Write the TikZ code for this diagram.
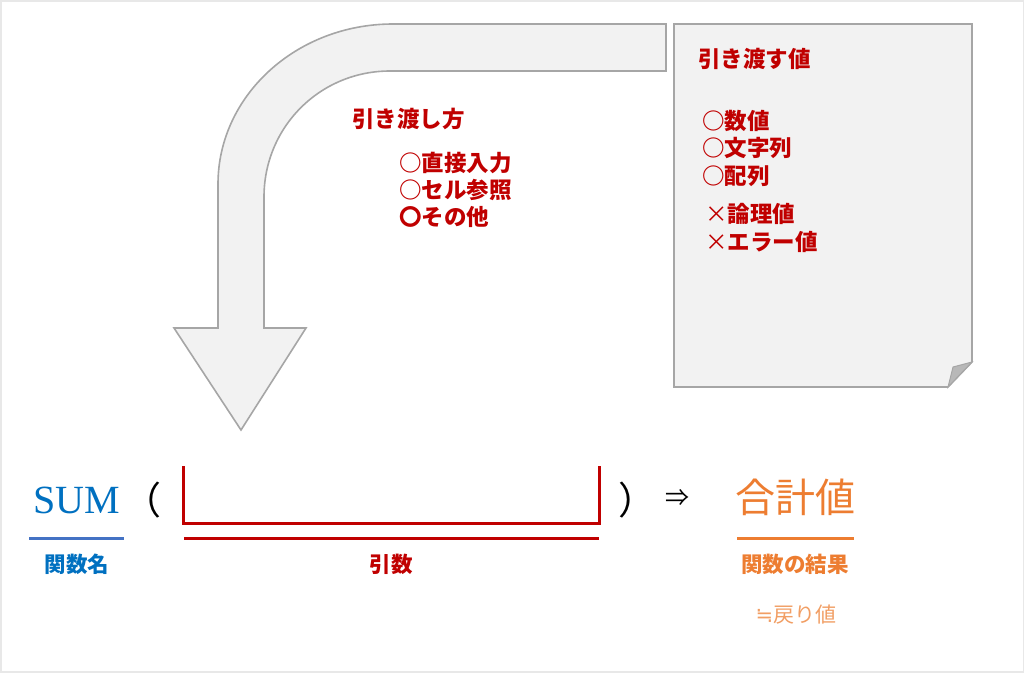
\documentclass[tikz,border=0pt]{standalone}
\usepackage{fontspec}
\setmainfont{Liberation Serif}
\newfontfamily\jp{Noto Sans CJK JP}
\newfontfamily\symfont{DejaVu Sans}
\definecolor{cred}{HTML}{C00000}
\definecolor{cblue}{HTML}{0070C0}
\definecolor{cline}{HTML}{4472C4}
\definecolor{corange}{HTML}{ED7D31}
\definecolor{cfill}{HTML}{F2F2F2}
\definecolor{cedge}{HTML}{A6A6A6}
\tikzset{
  shapebox/.style={fill=cfill,draw=cedge,line width=1.6pt,line join=miter},
  redlbl/.style={text=cred,font=\jp\bfseries\fontsize{22.5}{26}\selectfont,inner sep=0pt},
  redlist/.style={redlbl,anchor=west,align=left},
  botlbl/.style={inner sep=0pt,font=\jp\bfseries\fontsize{21.5}{24}\selectfont},
  uline/.style={line width=3pt},
}
\begin{document}
\begin{tikzpicture}[x=1pt,y=-1pt]
\useasboundingbox (0,0) rectangle (1024,672);
\draw[draw=black!9,line width=3pt] (0,0) rectangle (1024,672);
% bent arrow
\draw[shapebox] (666,24) -- (393,24) .. controls (296,24) and (218,96) .. (218,184)
  -- (218,328) -- (174,328) -- (241,430) -- (306,328) -- (264,328) -- (264,197)
  .. controls (264,127) and (320,71) .. (390,71) -- (666,71) -- cycle;
% page
\draw[shapebox] (674,24) -- (972,24) -- (972,362) -- (948,387) -- (674,387) -- cycle;
\draw[fill=black!28,draw=cedge,line width=1pt] (972,362) -- (953,367) -- (948,387) -- cycle;
% page texts
\node[redlbl,anchor=west] (pt) at (698,59) {引き渡す値};
\node[redlist] (p1) at (702,121) {○数値};
\node[redlist] (p2) at (702,148) {○文字列};
\node[redlist] (p3) at (702,176) {○配列};
\node[redlist] (p4) at (705,214) {{\mdseries ×}論理値};
\node[redlist] (p5) at (705,242) {{\mdseries ×}エラー値};
% middle texts
\node[redlbl,anchor=west] (mt) at (352,119) {引き渡し方};
\node[redlist] (m1) at (399,163) {○直接入力};
\node[redlist] (m2) at (399,190) {○セル参照};
\node[redlist] (m3) at (399,217) {〇その他};
% formula
\node[text=cblue,font=\fontsize{40}{44}\selectfont,inner sep=0pt] (sum) at (77,500) {SUM};
\node[font=\jp\fontsize{38}{40}\selectfont,inner sep=0pt] (lp) at (142,500) {（};
\node[font=\jp\fontsize{38}{40}\selectfont,inner sep=0pt] (rp) at (637,500) {）};
\node[font=\jp\fontsize{24}{28}\selectfont,inner sep=0pt] (imp) at (677,498) {⇒};
\node[text=corange,font=\jp\fontsize{40}{44}\selectfont,inner sep=0pt] (res) at (795,497) {合計値};
% bracket
\coordinate (b1) at (183,466);
\coordinate (b2) at (183,523);
\coordinate (b3) at (599,523);
\coordinate (b4) at (599,466);
\draw[cred,line width=3pt,line join=miter] (b1) -- (b2) -- (b3) -- (b4);
% underlines
\coordinate (u1a) at (29,538); \coordinate (u1b) at (124,538);
\coordinate (u2a) at (184,538); \coordinate (u2b) at (599,538);
\coordinate (u3a) at (737,538); \coordinate (u3b) at (854,538);
\draw[uline,cline] (u1a) -- (u1b);
\draw[uline,cred] (u2a) -- (u2b);
\draw[uline,corange] (u3a) -- (u3b);
% labels
\node[botlbl,text=cblue] (l1) at (77,564) {関数名};
\node[botlbl,text=cred] (l2) at (391,564) {引数};
\node[botlbl,text=corange] (l3) at (795,564) {関数の結果};
\node[text=corange!75,font=\jp\fontsize{21}{24}\selectfont,inner sep=0pt] (l4) at (796,615) {{\symfont ≒}戻り値};
\end{tikzpicture}
\end{document}
